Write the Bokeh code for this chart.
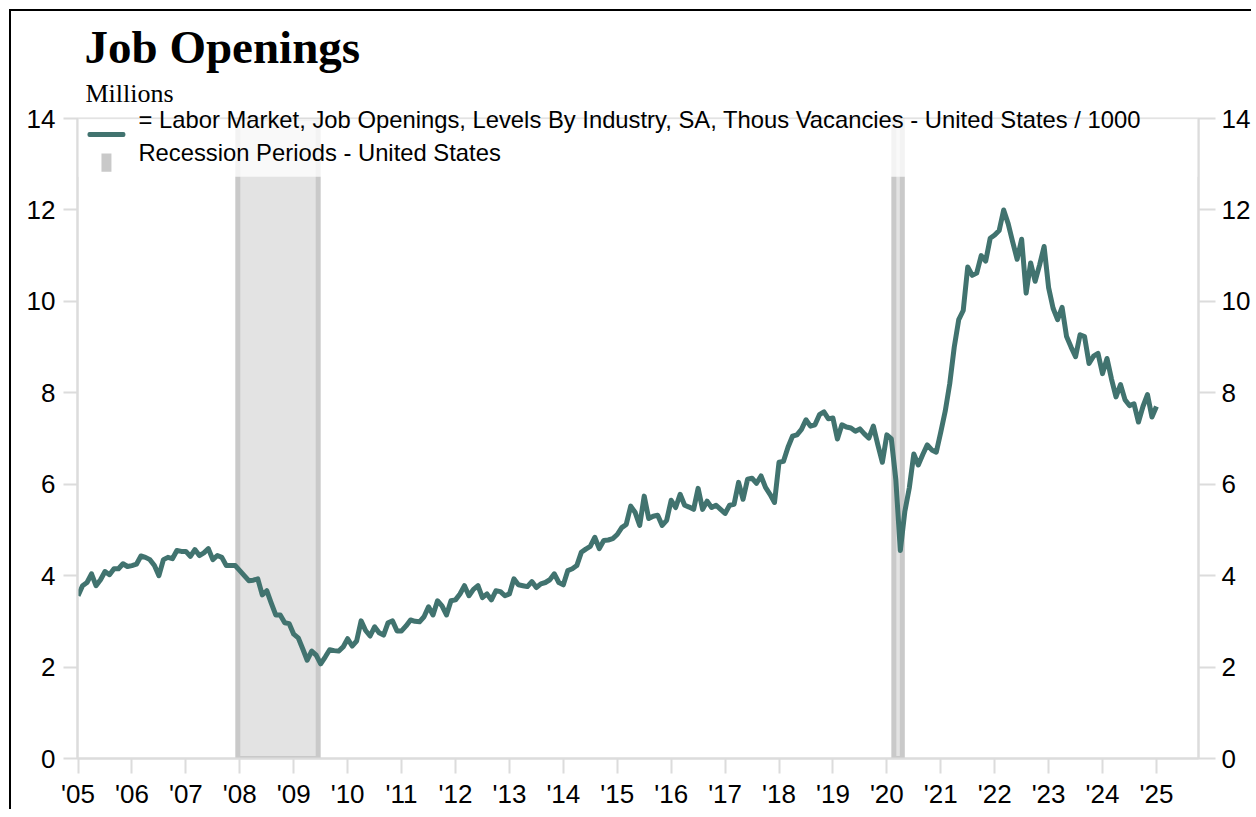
from bokeh.plotting import figure
from bokeh.models import (Range1d, LinearAxis, FixedTicker, Label, BoxAnnotation,
                          ColumnDataSource, Title)
from bokeh.embed import file_html
from bokeh.resources import INLINE

# ---------------- data ----------------
first_year = 2005  # series starts January 2005, monthly
job_openings = [
    # 2005
    3.56, 3.78, 3.85, 4.04, 3.78, 3.91, 4.09, 4.02, 4.15, 4.15, 4.26, 4.20,
    # 2006
    4.22, 4.25, 4.43, 4.40, 4.35, 4.22, 4.00, 4.35, 4.40, 4.37, 4.55, 4.53,
    # 2007
    4.53, 4.42, 4.57, 4.44, 4.50, 4.59, 4.35, 4.44, 4.40, 4.22, 4.22, 4.22,
    # 2008
    4.11, 4.00, 3.89, 3.90, 3.93, 3.58, 3.67, 3.40, 3.14, 3.14, 2.97, 2.95,
    # 2009
    2.72, 2.64, 2.40, 2.15, 2.35, 2.26, 2.07, 2.22, 2.38, 2.36, 2.35, 2.44,
    # 2010
    2.62, 2.46, 2.57, 3.01, 2.80, 2.68, 2.88, 2.75, 2.70, 2.97, 3.01, 2.79,
    # 2011
    2.79, 2.90, 3.03, 3.00, 2.99, 3.10, 3.32, 3.14, 3.45, 3.34, 3.14, 3.45,
    # 2012
    3.47, 3.60, 3.78, 3.56, 3.70, 3.78, 3.52, 3.60, 3.47, 3.67, 3.65, 3.56,
    # 2013
    3.60, 3.93, 3.80, 3.78, 3.76, 3.87, 3.74, 3.82, 3.85, 3.91, 4.04, 3.85,
    # 2014
    3.80, 4.11, 4.15, 4.22, 4.51, 4.58, 4.64, 4.84, 4.59, 4.77, 4.78, 4.81,
    # 2015
    4.90, 5.05, 5.12, 5.52, 5.38, 5.10, 5.74, 5.25, 5.30, 5.32, 5.10, 5.21,
    # 2016
    5.65, 5.49, 5.78, 5.54, 5.50, 5.45, 5.91, 5.45, 5.63, 5.49, 5.54, 5.45,
    # 2017
    5.36, 5.54, 5.56, 6.04, 5.67, 6.11, 6.13, 6.02, 6.18, 5.93, 5.78, 5.60,
    # 2018
    6.48, 6.50, 6.81, 7.05, 7.08, 7.20, 7.41, 7.27, 7.30, 7.52, 7.58, 7.43,
    # 2019
    7.45, 6.99, 7.30, 7.25, 7.23, 7.16, 7.21, 7.10, 7.01, 7.27, 6.86, 6.48,
    # 2020
    7.08, 6.99, 6.10, 4.55, 5.40, 5.92, 6.66, 6.42, 6.65, 6.86, 6.75, 6.70,
    # 2021
    7.14, 7.60, 8.20, 9.00, 9.60, 9.80, 10.75, 10.57, 10.62, 11.00, 10.88, 11.38,
    # 2022
    11.45, 11.55, 12.00, 11.70, 11.30, 10.92, 11.36, 10.18, 10.84, 10.44, 10.80, 11.20,
    # 2023
    10.30, 9.85, 9.60, 9.87, 9.23, 9.00, 8.79, 9.27, 9.23, 8.64, 8.80, 8.86,
    # 2024
    8.42, 8.75, 8.30, 7.91, 8.18, 7.85, 7.72, 7.76, 7.36, 7.70, 7.96, 7.47,
    # 2025
    7.70,
]
months = [first_year + i / 12 for i in range(len(job_openings))]

# recession periods (year, month) start/end inclusive
recession_start = [(2007, 12), (2020, 2)]
recession_end = [(2009, 6), (2020, 4)]

year_ticks = list(range(2005, 2026))
year_labels = ["'%02d" % (y % 100) for y in year_ticks]
y_ticks = [0, 2, 4, 6, 8, 10, 12, 14]

series_label = "= Labor Market, Job Openings, Levels By Industry, SA, Thous Vacancies - United States / 1000"
recession_label = "Recession Periods - United States"
title_text = "Job Openings"
unit_text = "Millions"

# ---------------- styling ----------------
TEAL = "#41736f"
AXIS_GRAY = "#dcdcdc"
BAND_FILL = "#e3e3e3"
BAND_EDGE = "#c9c9c9"
SANS = "Liberation Sans"
SERIF = "Liberation Serif"

X0, X1 = 2004.99, 2025.78
Y0, Y1 = 0, 14

# page geometry
PAGE_OFF = 11          # canvas origin on the page (after margin + border)
W, H = 1242, 800
F_LEFT, F_RIGHT, F_TOP, F_BOTTOM = 77, 1200, 118, 756


def dx(px):
    return X0 + (px - F_LEFT) / (F_RIGHT - F_LEFT) * (X1 - X0)


def dy(py):
    return Y0 + (F_BOTTOM - py) / (F_BOTTOM - F_TOP) * (Y1 - Y0)


px_per_year = (F_RIGHT - F_LEFT) / (X1 - X0)

p = figure(
    width=W, height=H,
    x_range=Range1d(X0, X1), y_range=Range1d(Y0, Y1),
    output_backend="svg", toolbar_location=None,
    min_border_left=F_LEFT - PAGE_OFF, min_border_right=W - 2 - (F_RIGHT - PAGE_OFF),
    min_border_top=F_TOP - PAGE_OFF, min_border_bottom=H - 2 - (F_BOTTOM - PAGE_OFF),
    background_fill_color="white", border_fill_color="white",
    outline_line_color=AXIS_GRAY, outline_line_width=2,
    styles={"margin-left": "9px", "margin-top": "9px",
            "border-left": "2px solid black", "border-top": "2px solid black"},
)
p.xgrid.visible = False
p.ygrid.visible = False

# header texts stacked above the frame (added Titles: first added = nearest the frame;
# p.title is always the outermost). The first legend entry straddles the frame's top edge.
p.add_layout(Title(text=series_label, align="left", offset=61, standoff=-28,
                   text_font=SANS, text_font_style="normal", text_font_size="23.8px",
                   text_color="black"), "above")
p.add_layout(Title(text=unit_text, align="left", offset=8, standoff=20,
                   text_font=SERIF, text_font_style="normal", text_font_size="26px",
                   text_color="black"), "above")
p.title.text = title_text
p.title.align = "left"
p.title.offset = 7
p.title.standoff = -12
p.title.text_font = SERIF
p.title.text_font_style = "bold"
p.title.text_font_size = "47px"
p.title.text_color = "black"

# recession bands
inset = 2.5 / px_per_year
rs = [y + (m - 1) / 12 for y, m in recession_start]
re_ = [y + m / 12 for y, m in recession_end]
band_src = ColumnDataSource(dict(
    left=[v + inset for v in rs], right=[v - inset for v in re_],
    bottom=[Y0] * len(rs), top=[Y1] * len(rs)))
p.quad(left="left", right="right", bottom="bottom", top="top", source=band_src,
       fill_color=BAND_FILL, line_color=BAND_EDGE, line_width=5, level="underlay")

# semi-transparent legend backdrop
legend_box = BoxAnnotation(bottom=dy(176), top=Y1, fill_color="white", fill_alpha=0.78,
                           line_alpha=0, level="underlay")
p.add_layout(legend_box)

# main line
src = ColumnDataSource(dict(x=months, y=job_openings))
p.line("x", "y", source=src, line_color=TEAL, line_width=5, line_join="round")

# axes
def style_axis(ax, tick_out, standoff, size="26px"):
    ax.axis_line_color = AXIS_GRAY
    ax.axis_line_width = 2
    ax.major_tick_line_color = AXIS_GRAY
    ax.major_tick_line_width = 2
    ax.major_tick_out = tick_out
    ax.major_tick_in = 0
    ax.minor_tick_line_color = None
    ax.major_label_text_font = SANS
    ax.major_label_text_font_size = size
    ax.major_label_text_color = "black"
    ax.major_label_standoff = standoff

xa = p.xaxis[0]
xa.ticker = FixedTicker(ticks=year_ticks)
xa.major_label_overrides = {y: l for y, l in zip(year_ticks, year_labels)}
style_axis(xa, 15, 5)

ya = p.yaxis[0]
ya.ticker = FixedTicker(ticks=y_ticks)
style_axis(ya, 14, 8)
ya2 = LinearAxis(ticker=FixedTicker(ticks=y_ticks))
style_axis(ya2, 17, 6)
p.add_layout(ya2, "right")

# legend glyphs and second entry
p.add_layout(BoxAnnotation(left=dx(87), right=dx(125), bottom=dy(136.5), top=dy(131.5),
                           fill_color=TEAL, fill_alpha=1, line_alpha=0, border_radius=2))
p.add_layout(BoxAnnotation(left=dx(101), right=dx(111), bottom=dy(171), top=dy(153),
                           fill_color=BAND_EDGE, fill_alpha=1, line_alpha=0))
p.add_layout(Label(x=dx(138), y=dy(151.5), text=recession_label, text_font=SANS,
                   text_font_size="23.8px", text_color="black", text_baseline="alphabetic"))

open("out.html", "w").write(file_html(p, INLINE))
